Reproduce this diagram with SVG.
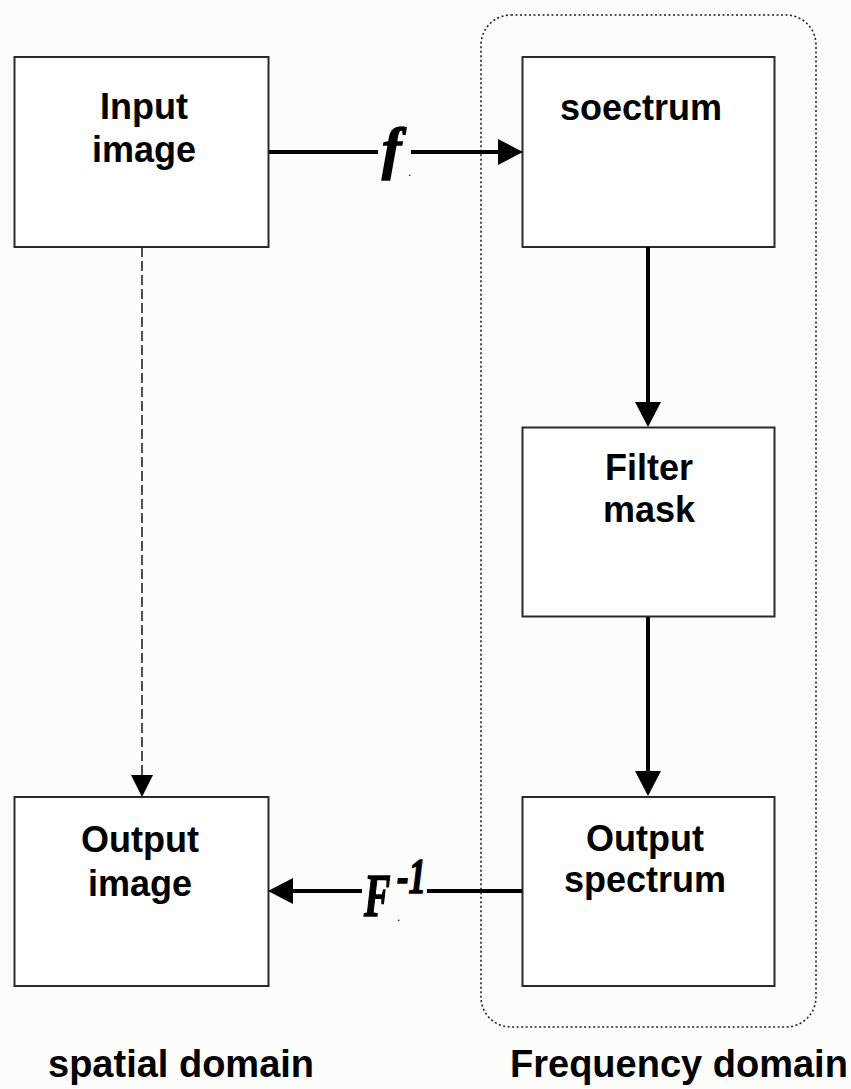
<svg xmlns="http://www.w3.org/2000/svg" width="851" height="1089" viewBox="0 0 851 1089">
<style>
.box{fill:#ffffff;stroke:#2a2a2a;stroke-width:2}
.lbl{font-family:"Liberation Sans",Arial,sans-serif;font-weight:bold;font-size:36px;fill:#000;text-anchor:middle}
.dom{font-family:"Liberation Sans",Arial,sans-serif;font-weight:bold;font-size:38px;fill:#000}
.op{font-family:"Liberation Serif","Times New Roman",serif;font-weight:bold;font-style:italic;fill:#000;stroke:#000;stroke-width:1.5}
.dot{font-family:"Liberation Sans",Arial,sans-serif;font-size:12px;fill:#000}
.solid{fill:none;stroke:#000;stroke-width:4}
.dash{fill:none;stroke:#222;stroke-width:1.6;stroke-dasharray:10 4}
.frame{fill:none;stroke:#222;stroke-width:1.6;stroke-dasharray:2 2.5}
</style>
<defs>
<marker id="ah" markerUnits="userSpaceOnUse" markerWidth="26" markerHeight="26" refX="20" refY="13" orient="auto">
<path d="M0,0 L25,13 L0,26 Z" fill="#000"/>
</marker>
<marker id="ahs" markerUnits="userSpaceOnUse" markerWidth="22" markerHeight="22" refX="20" refY="11" orient="auto">
<path d="M0,0 L22,11 L0,22 Z" fill="#000"/>
</marker>
</defs>
<rect width="851" height="1089" fill="#fcfdfb"/>
<g id="frequency-frame">
<rect class="frame" x="481" y="15" width="335" height="1012" rx="30" ry="30"/>
</g>
<g id="input-image">
<rect class="box" x="14.5" y="57" width="254" height="190"/>
<text class="lbl" x="144" y="119">Input</text>
<text class="lbl" x="144" y="162">image</text>
</g>
<g id="spectrum">
<rect class="box" x="522.5" y="57" width="252" height="190"/>
<text class="lbl" x="641" y="120">soectrum</text>
</g>
<g id="filter-mask">
<rect class="box" x="522.5" y="427.5" width="252" height="189"/>
<text class="lbl" x="649" y="480">Filter</text>
<text class="lbl" x="649" y="522">mask</text>
</g>
<g id="output-spectrum">
<rect class="box" x="522.5" y="797" width="252" height="189"/>
<text class="lbl" x="645" y="851">Output</text>
<text class="lbl" x="645" y="892">spectrum</text>
</g>
<g id="output-image">
<rect class="box" x="14.5" y="797" width="254" height="189"/>
<text class="lbl" x="140" y="852">Output</text>
<text class="lbl" x="140" y="896">image</text>
</g>
<g id="connectors">
<line class="solid" x1="269" y1="152" x2="378" y2="152"/>
<line class="solid" x1="411" y1="152" x2="518" y2="152" marker-end="url(#ah)"/>
<line class="solid" x1="648" y1="247" x2="648" y2="422" marker-end="url(#ah)"/>
<line class="solid" x1="648" y1="617" x2="648" y2="791" marker-end="url(#ah)"/>
<line class="solid" x1="522" y1="891" x2="427" y2="891"/>
<line class="solid" x1="362" y1="891" x2="273" y2="891" marker-end="url(#ah)"/>
<line class="dash" x1="142" y1="247" x2="142" y2="795" marker-end="url(#ahs)"/>
</g>
<g id="connector-labels">
<text class="op" x="382" y="168" font-size="58">f</text>
<text class="dot" x="408" y="176">.</text>
<text class="op" font-size="62" transform="translate(364 916) scale(0.64 1)">F</text>
<text class="op" x="397" y="893" font-size="50" textLength="29" lengthAdjust="spacingAndGlyphs">-1</text>
<text class="dot" x="397" y="921">.</text>
</g>
<g id="domain-labels">
<text class="dom" x="48" y="1077">spatial domain</text>
<text class="dom" x="510" y="1077">Frequency domain</text>
</g>
</svg>
